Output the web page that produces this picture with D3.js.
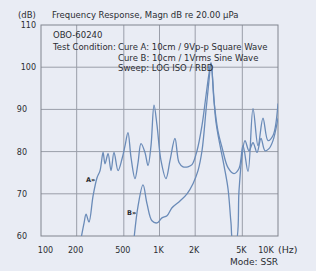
<!DOCTYPE html>
<html>
<head>
<meta charset="utf-8">
<script src="https://cdn.jsdelivr.net/npm/d3@7"></script>
<style>
    html, body { margin: 0; padding: 0; background: #e9ecf4; }
    svg { display: block; }
    text { font-family: "DejaVu Sans", Arial, sans-serif; fill: #2b2d33; }
</style>
</head>
<body>
<svg width="316" height="271"></svg>
<script>
/*global d3 */
"use strict";

// curve A: 10cm / 9Vp-p square wave  [Hz, dB]
var curveA = [
    [218, 59.5], [231, 63.1], [240, 65.2], [254, 63.3], [275, 69.5],
    [297, 73.8], [315, 75.5], [334, 79.8], [347, 77.1], [368, 79.5],
    [390, 75.5], [413, 79.8], [447, 75.5], [483, 78.3], [512, 81.4],
    [542, 84.5], [575, 78.6], [621, 73.6], [659, 77.4], [698, 81.9],
    [754, 79.8], [800, 76.7], [848, 81.4], [899, 91.0], [953, 86.2],
    [1029, 77.9], [1134, 73.6], [1227, 77.9], [1351, 83.1], [1461, 77.4],
    [1579, 76.4], [1740, 76.4], [1881, 76.9], [2073, 80.2], [2284, 86.2],
    [2469, 93.3], [2617, 98.5], [2720, 101.0], [2884, 92.0], [3117, 84.8],
    [3369, 81.0], [3786, 76.2], [4254, 74.8], [4687, 76.0], [5066, 81.4],
    [5583, 75.3], [6152, 90.2], [6780, 81.4], [7470, 87.9], [8233, 82.6],
    [9073, 83.8], [10000, 91.4]
];

// curve B: 10cm / 1Vrms sine wave  [Hz, dB]
var curveB = [
    [609, 59.3], [659, 67.1], [726, 72.1], [785, 67.6], [864, 63.6],
    [953, 63.1], [1049, 64.3], [1157, 64.8], [1275, 66.7], [1489, 68.3],
    [1707, 70.0], [1917, 72.4], [2113, 75.5], [2284, 80.2], [2469, 89.8],
    [2617, 96.9], [2720, 101.0], [2999, 86.9], [3503, 76.7], [3786, 71.2],
    [4012, 63.1], [4171, 58.8], [4421, 58.8], [4687, 70.7], [4969, 79.0],
    [5267, 82.6], [5692, 80.2], [6152, 82.1], [6649, 79.8], [7187, 83.1],
    [7768, 80.2], [8396, 80.7], [9073, 82.6], [10000, 87.9]
];

var xTicks = [100, 200, 500, 1000, 2000, 5000, 10000];
var xTickLabels = ["100", "200", "500", "1K", "2K", "5K", "10K"];
var yTicks = [60, 70, 80, 90, 100, 110];

var infoLines = [
    "OBO-60240",
    "Test Condition:"
];
var conditionLines = [
    "Cure A: 10cm / 9Vp-p Square Wave",
    "Cure B: 10cm / 1Vrms Sine Wave",
    "Sweep: LOG ISO / RBD"
];

var svg = d3.select("svg");
var margin = {top: 25, right: 38, bottom: 35, left: 41};
var width = 316 - margin.left - margin.right;
var height = 271 - margin.top - margin.bottom;
var lineColor = "#6a8bb8";
var gridColor = "#9a9ea9";

var xScale = d3.scaleLog()
    .domain([100, 10000])
    .range([0, width]);
var yScale = d3.scaleLinear()
    .domain([60, 110])
    .range([height, 0]);

var main = svg.append("g")
    .attr("transform", "translate(" + margin.left + "," + margin.top + ")");

main.append("clipPath")
    .attr("id", "plot-clip")
    .append("rect")
    .attr("width", width)
    .attr("height", height);

// grid
main.append("g")
    .selectAll("line")
    .data(xTicks.slice(1, -1))
    .join("line")
    .attr("x1", function (d) { return xScale(d); })
    .attr("x2", function (d) { return xScale(d); })
    .attr("y1", 0)
    .attr("y2", height)
    .attr("stroke", gridColor);

main.append("g")
    .selectAll("line")
    .data(yTicks.slice(1, -1))
    .join("line")
    .attr("x1", 0)
    .attr("x2", width)
    .attr("y1", function (d) { return yScale(d); })
    .attr("y2", function (d) { return yScale(d); })
    .attr("stroke", gridColor);

main.append("rect")
    .attr("width", width)
    .attr("height", height)
    .attr("fill", "none")
    .attr("stroke", "#80848e");

// axes (labels only)
var yAxis = d3.axisLeft(yScale)
    .tickValues(yTicks)
    .tickSize(0)
    .tickPadding(5);
var yAxisGroup = main.append("g").call(yAxis);
yAxisGroup.select(".domain").remove();
yAxisGroup.selectAll("text")
    .style("font-size", "8px")
    .attr("fill", "#2b2d33")
    .attr("dx", function (d) {
        return d >= 100 ? 0 : -9; // two-digit labels sit further left
    });

var xAxis = d3.axisBottom(xScale)
    .tickValues(xTicks)
    .tickFormat(function (ignore, i) {
        return xTickLabels[i];
    })
    .tickSize(0)
    .tickPadding(11);
var xAxisGroup = main.append("g")
    .attr("transform", "translate(0," + height + ")")
    .call(xAxis);
xAxisGroup.select(".domain").remove();
xAxisGroup.selectAll("text")
    .style("font-size", "8px")
    .attr("fill", "#2b2d33")
    .attr("dx", function (d) {
        if (d === 100) {
            return 4;
        }
        if (d === 10000) {
            return -12.5;
        }
        return -1.5;
    });

// curves
var line = d3.line()
    .x(function (d) { return xScale(d[0]); })
    .y(function (d) { return yScale(d[1]); })
    .curve(d3.curveCatmullRom.alpha(0.5));

var curves = main.append("g").attr("clip-path", "url(#plot-clip)");
[curveA, curveB].forEach(function (series) {
    curves.append("path")
        .datum(series)
        .attr("d", line)
        .attr("fill", "none")
        .attr("stroke", lineColor)
        .attr("stroke-width", 1.3)
        .attr("stroke-linejoin", "round");
});

main.append("text")
    .attr("x", xScale(240))
    .attr("y", yScale(72.9))
    .style("font-size", "6.5px")
    .style("font-weight", "bold")
    .text("A\u00bb");
main.append("text")
    .attr("x", xScale(532))
    .attr("y", yScale(65.0))
    .style("font-size", "6.5px")
    .style("font-weight", "bold")
    .text("B\u00bb");

// texts inside plot
main.append("g")
    .selectAll("text")
    .data(infoLines)
    .join("text")
    .attr("x", 12)
    .attr("y", function (ignore, i) { return 13 + i * 12; })
    .style("font-size", "8.5px")
    .text(function (d) { return d; });

main.append("g")
    .selectAll("text")
    .data(conditionLines)
    .join("text")
    .attr("x", 77)
    .attr("y", function (ignore, i) { return 25 + i * 10.5; })
    .style("font-size", "8.5px")
    .text(function (d) { return d; });

// header and footer
svg.append("text")
    .attr("x", 18)
    .attr("y", 18)
    .style("font-size", "8.5px")
    .text("(dB)");
svg.append("text")
    .attr("x", 52)
    .attr("y", 18)
    .style("font-size", "8.5px")
    .text("Frequency Response, Magn dB re 20.00 \u03bcPa");
svg.append("text")
    .attr("x", 278)
    .attr("y", 253)
    .style("font-size", "9.5px")
    .text("(Hz)");
svg.append("text")
    .attr("x", 230)
    .attr("y", 265)
    .style("font-size", "9px")
    .text("Mode: SSR");
</script>
</body>
</html>
